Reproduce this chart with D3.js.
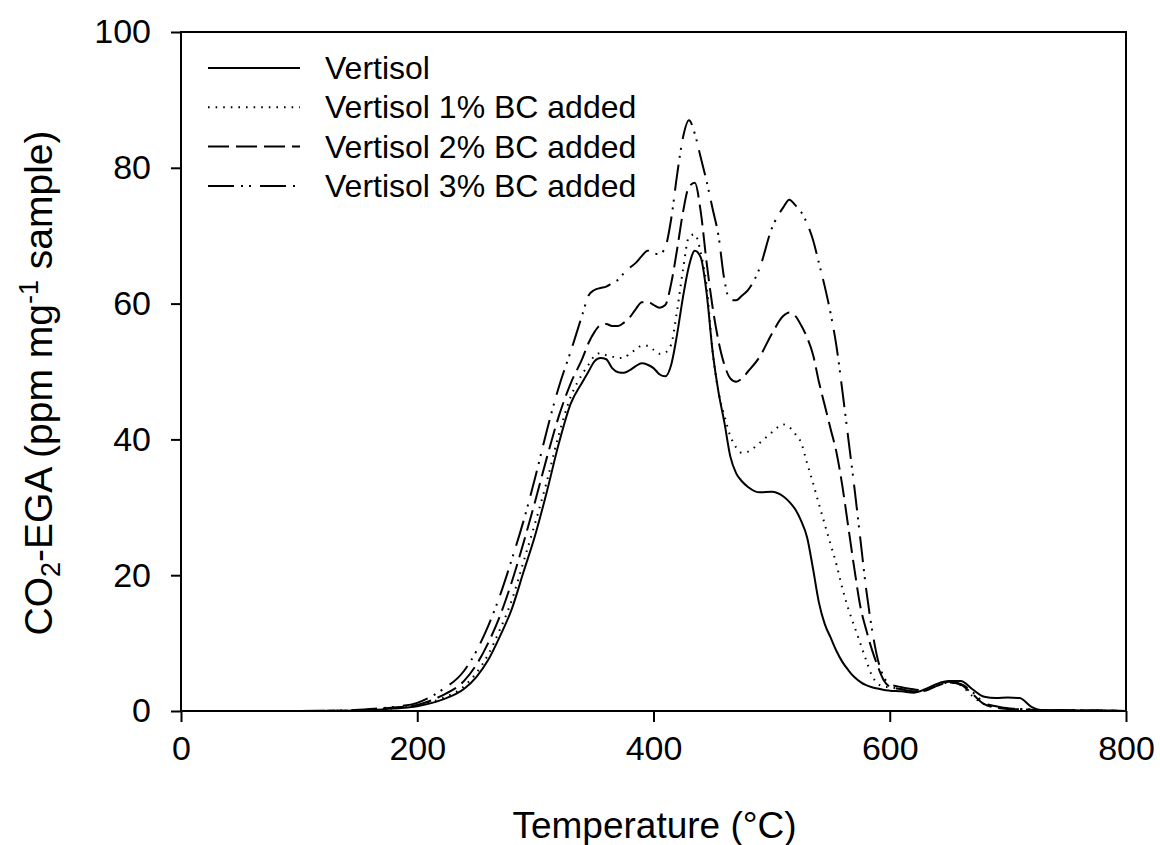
<!DOCTYPE html>
<html>
<head>
<meta charset="utf-8">
<script src="https://cdn.jsdelivr.net/npm/d3@7"></script>
<style>
  body { margin: 0; background: #fff; }
  svg { font-family: "Liberation Sans", Arial, sans-serif; }
</style>
</head>
<body>
<svg id="chart"></svg>
<script>
// temperature grid (°C)
const temperature = [100,140,160,180,200,220,240,250,260,270,280,290,300,310,320,330,340,345,350,355,360,365,370,375,380,385,390,395,400,405,410,415,420,425,430,435,440,445,450,455,460,465,470,475,480,490,500,510,515,520,525,530,535,540,545,550,555,560,565,570,575,580,585,590,595,600,610,620,630,640,650,660,670,680,690,700,710,720,730,750,800];

// CO2-EGA (ppm mg-1 sample)
const vertisol = [0,0.05,0.15,0.35,0.7,1.6,3.3,5,7.5,11,15,20.5,26,32.5,39.5,45.3,48.5,50,51.5,52,51.8,50.5,49.9,49.8,50.2,50.8,51.2,51,50.5,49.6,49.3,51,55.5,61,65.5,67.8,66.8,61.5,53,47,42.5,37.5,35,33.8,33,32.2,32.3,31.6,30.8,29.7,28,25.6,21,16,12.8,10.8,8.8,7.2,6,5,4.3,3.8,3.5,3.3,3.1,3,2.9,2.7,3.2,4,4.4,4.4,3.2,2.1,1.9,2,1.9,0.6,0.1,0.1,0];
const bc1 = [0,0.05,0.2,0.4,0.8,1.8,3.7,5.6,8.3,12,16.3,22,27.8,34,40.8,46.3,49.7,51,52.3,52.7,52.4,52.2,52,52,52.7,53.2,53.8,53.8,53.2,52.6,52.8,54,59,65,69.8,70.2,67.5,62.5,53,47,43.5,40.5,38.8,38,38.2,39.5,41,42.2,41.8,40.8,39.5,36.5,33.6,30.5,27.5,24.5,21.5,18,15,12.5,10,7.5,5.2,4,3.6,3.5,3.2,2.9,3,3.8,4.2,3.8,2.2,1,0.6,0.4,0.3,0.2,0.1,0.1,0];
const bc2 = [0,0.05,0.2,0.5,0.9,2.2,4.5,6.8,10,14,19,24.8,31,37.5,43.5,48.3,52,54.2,55.8,56.8,57,56.7,56.7,57.2,58,59.2,60.2,60.3,59.8,59.4,59.8,63,68,73.5,77.2,77.8,73.5,66,59.5,54.5,51,49,48.5,49,50,52.2,55.5,58.2,58.7,58.2,56.8,55,52.5,48.5,45,41.5,38,33,27,21,15.5,12,9,6.5,4.5,3.6,3.2,2.9,3,3.7,4.2,3.9,2.5,1,0.5,0.3,0.25,0.2,0.1,0.1,0];
const bc3 = [0,0.1,0.3,0.6,1.2,3,6,8.8,12.5,17,22.3,28,34.5,41.5,47.8,53,58.5,61.2,62,62.3,62.5,63,63.5,64.5,65.3,66,67,67.8,67.4,67.3,68.3,72.5,79,84.5,87,85,81.5,78,74,70,63.5,60.5,60.5,61.2,62,65.3,71,74.2,75.3,74.5,73.5,71.8,69.4,66,62.5,58.5,53.6,47,40,33,25.5,18,12,7.5,5,4,3.5,3.2,3,3.8,4.3,4,2.8,1.2,0.7,0.4,0.3,0.2,0.1,0.1,0];

const seriesNames = ["Vertisol", "Vertisol 1% BC added", "Vertisol 2% BC added", "Vertisol 3% BC added"];
const seriesValues = [vertisol, bc1, bc2, bc3];
const dashes = [null, "1.6,6", "21,7", "26,7,2,6,2,9"];

const xTicks = [0, 200, 400, 600, 800];
const yTicks = [0, 20, 40, 60, 80, 100];

const width = 1160, height = 845;
const margin = { top: 32, right: 34, bottom: 134, left: 181 };
const iw = width - margin.left - margin.right;
const ih = height - margin.top - margin.bottom;

const svg = d3.select("#chart").attr("width", width).attr("height", height);
const g = svg.append("g").attr("transform", `translate(${margin.left},${margin.top})`);

const x = d3.scaleLinear().domain([0, 800]).range([0, iw]);
const y = d3.scaleLinear().domain([0, 100]).range([ih, 0]);

// curves
const line = d3.line()
    .x(d => x(d[0]))
    .y(d => y(d[1]))
    .curve(d3.curveMonotoneX);

seriesValues.forEach((vals, i) => {
  const pts = temperature.map((t, k) => [t, vals[k]]);
  g.append("path")
      .datum(pts)
      .attr("fill", "none")
      .attr("stroke", "#000")
      .attr("stroke-width", 2)
      .attr("stroke-dasharray", dashes[i])
      .attr("d", line);
});

// axes
const xAxis = g.append("g")
    .attr("transform", `translate(0,${ih})`)
    .call(d3.axisBottom(x).tickValues(xTicks).tickSize(11).tickPadding(14));
const yAxis = g.append("g")
    .call(d3.axisLeft(y).tickValues(yTicks).tickSize(10).tickPadding(20));

[xAxis, yAxis].forEach(ax => {
  ax.select(".domain").remove();
  ax.selectAll("line").attr("stroke", "#000").attr("stroke-width", 2);
  ax.selectAll("text").attr("font-size", 34).attr("fill", "#000");
});

// frame
g.append("rect")
    .attr("width", iw).attr("height", ih)
    .attr("fill", "none").attr("stroke", "#000").attr("stroke-width", 2);

// axis titles
svg.append("text")
    .attr("x", margin.left + iw / 2 + 1)
    .attr("y", 838)
    .attr("text-anchor", "middle")
    .attr("font-size", 37)
    .text("Temperature (°C)");

const yt = svg.append("text")
    .attr("transform", "translate(52,383) rotate(-90)")
    .attr("text-anchor", "middle")
    .attr("font-size", 39);
yt.append("tspan").text("CO");
yt.append("tspan").attr("font-size", 27).attr("dy", 8).text("2");
yt.append("tspan").attr("dy", -8).text("-EGA (ppm mg");
yt.append("tspan").attr("font-size", 27).attr("dy", -14).text("-1");
yt.append("tspan").attr("dy", 14).text(" sample)");

// legend
const legend = g.append("g").attr("transform", "translate(27,36)");
seriesNames.forEach((name, i) => {
  const row = legend.append("g").attr("transform", `translate(0,${i * 39.3})`);
  row.append("line")
      .attr("x1", 0).attr("x2", 92)
      .attr("stroke", "#000").attr("stroke-width", 2)
      .attr("stroke-dasharray", dashes[i]);
  row.append("text")
      .attr("x", 117).attr("y", 11)
      .attr("font-size", 32)
      .text(name);
});
</script>
</body>
</html>
